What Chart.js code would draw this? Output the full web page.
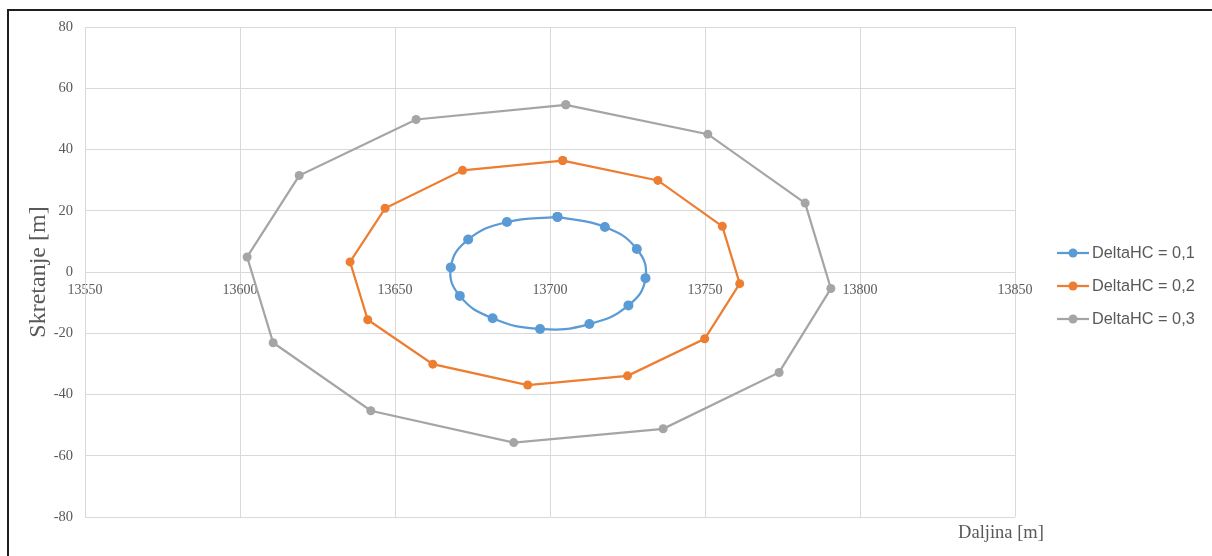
<!DOCTYPE html>
<html>
<head>
<meta charset="utf-8">
<script src="https://cdn.jsdelivr.net/npm/chart.js@4"></script>
<style>
  html, body { margin: 0; padding: 0; background: #fff; overflow: hidden; }
  #wrap { position: relative; width: 1212px; height: 556px; }
  #frame {
    position: absolute; left: 7px; top: 9px; width: 1230px; height: 580px;
    border-left: 2px solid #1e1e1e; border-top: 2px solid #1e1e1e;
    pointer-events: none;
  }
  canvas { position: absolute; left: 0; top: 0; }
</style>
</head>
<body>
<div id="wrap">
  <canvas id="chart" width="1212" height="556"></canvas>
  <div id="frame"></div>
</div>
<script>
// DeltaHC series (x = Daljina, y = Skretanje)
const seriesNames = ["DeltaHC = 0,1", "DeltaHC = 0,2", "DeltaHC = 0,3"];
const seriesColors = ["#5B9BD5", "#ED7D31", "#A5A5A5"];

const blueX = [13702.4, 13717.7, 13728.0, 13730.8, 13725.3, 13712.7, 13696.8, 13681.5, 13670.9, 13668.0, 13673.6, 13686.1, 13702.4];
const blueY = [18.0, 14.7, 7.5, -2.0, -10.9, -17.0, -18.6, -15.1, -7.8, 1.5, 10.6, 16.3, 18.0];

const orangeX = [13704.1, 13734.8, 13755.6, 13761.2, 13749.9, 13725.0, 13692.8, 13662.2, 13641.2, 13635.5, 13646.8, 13671.8, 13704.1];
const orangeY = [36.4, 29.9, 14.9, -3.8, -21.8, -33.9, -36.9, -30.1, -15.6, 3.3, 20.8, 33.2, 36.4];

const grayX = [13705.1, 13750.9, 13782.3, 13790.6, 13773.9, 13736.5, 13688.3, 13642.2, 13610.7, 13602.3, 13619.1, 13656.8, 13705.1];
const grayY = [54.6, 45.0, 22.5, -5.4, -32.8, -51.2, -55.7, -45.3, -23.1, 4.9, 31.5, 49.8, 54.6];

const xTicks = [13550, 13600, 13650, 13700, 13750, 13800, 13850];
const yTicks = [-80, -60, -40, -20, 0, 20, 40, 60, 80];

const xTitle = "Daljina [m]";
const yTitle = "Skretanje [m]";

const toPoints = (xs, ys) => xs.map((x, i) => ({ x: x, y: ys[i] }));

const serif = "'Liberation Serif', 'Times New Roman', serif";
const sans = "'Liberation Sans', Arial, sans-serif";
const textColor = "#595959";
const gridColor = "#d9d9d9";

function makeSet(i, xs, ys, tension, radius) {
  return {
    label: seriesNames[i],
    data: toPoints(xs, ys),
    showLine: true,
    tension: tension,
    borderColor: seriesColors[i],
    backgroundColor: seriesColors[i],
    borderWidth: 2.25,
    pointRadius: radius,
    pointHoverRadius: radius,
    pointBorderWidth: 0
  };
}

// legend on the right: short line with a dot, then the name
const sideLegend = {
  id: "sideLegend",
  afterDraw(chart) {
    const ctx = chart.ctx;
    const area = chart.chartArea;
    const x0 = area.right + 42;
    const y0 = 253;
    ctx.save();
    chart.data.datasets.forEach((ds, i) => {
      const y = y0 + i * 33;
      ctx.strokeStyle = ds.borderColor;
      ctx.lineWidth = 2.25;
      ctx.beginPath();
      ctx.moveTo(x0, y);
      ctx.lineTo(x0 + 32, y);
      ctx.stroke();
      ctx.fillStyle = ds.borderColor;
      ctx.beginPath();
      ctx.arc(x0 + 16, y, 4.5, 0, Math.PI * 2);
      ctx.fill();
      ctx.fillStyle = textColor;
      ctx.font = "16.3px " + sans;
      ctx.textBaseline = "middle";
      ctx.textAlign = "left";
      ctx.fillText(ds.label, x0 + 35, y + 1);
    });
    ctx.restore();
  }
};

// x axis title sits at the bottom right, under the plot
const bottomTitle = {
  id: "bottomTitle",
  afterDraw(chart) {
    const ctx = chart.ctx;
    const area = chart.chartArea;
    ctx.save();
    ctx.fillStyle = textColor;
    ctx.font = "18.5px " + serif;
    ctx.textAlign = "center";
    ctx.textBaseline = "middle";
    ctx.fillText(xTitle, area.right - 14, area.bottom + 16);
    ctx.restore();
  }
};

new Chart(document.getElementById("chart"), {
  type: "scatter",
  data: {
    datasets: [
      makeSet(0, blueX, blueY, 0.45, 5),
      makeSet(1, orangeX, orangeY, 0, 4.5),
      makeSet(2, grayX, grayY, 0, 4.5)
    ]
  },
  options: {
    responsive: false,
    animation: false,
    layout: { padding: { left: 15, right: 197, top: 27, bottom: 39 } },
    plugins: {
      legend: { display: false },
      tooltip: { enabled: false }
    },
    scales: {
      x: {
        type: "linear",
        position: { y: 0 },
        min: 13550,
        max: 13850,
        afterBuildTicks: s => { s.ticks = xTicks.map(v => ({ value: v })); },
        grid: { color: gridColor, lineWidth: 1, drawTicks: false },
        border: { color: gridColor, width: 1 },
        ticks: {
          color: textColor,
          font: { family: serif, size: 14 },
          padding: 10,
          maxRotation: 0,
          autoSkip: false,
          callback: v => String(v)
        }
      },
      y: {
        type: "linear",
        position: "left",
        min: -80,
        max: 80,
        afterBuildTicks: s => { s.ticks = yTicks.map(v => ({ value: v })); },
        afterFit: s => { s.width = 70; },
        grid: { color: gridColor, lineWidth: 1, drawTicks: false },
        border: { color: gridColor, width: 1 },
        ticks: {
          color: textColor,
          font: { family: serif, size: 14.5 },
          padding: 12,
          callback: v => String(v)
        },
        title: {
          display: true,
          text: yTitle,
          color: textColor,
          font: { family: serif, size: 24 },
          padding: { top: 9, bottom: 0 }
        }
      }
    }
  },
  plugins: [sideLegend, bottomTitle]
});
</script>
</body>
</html>
